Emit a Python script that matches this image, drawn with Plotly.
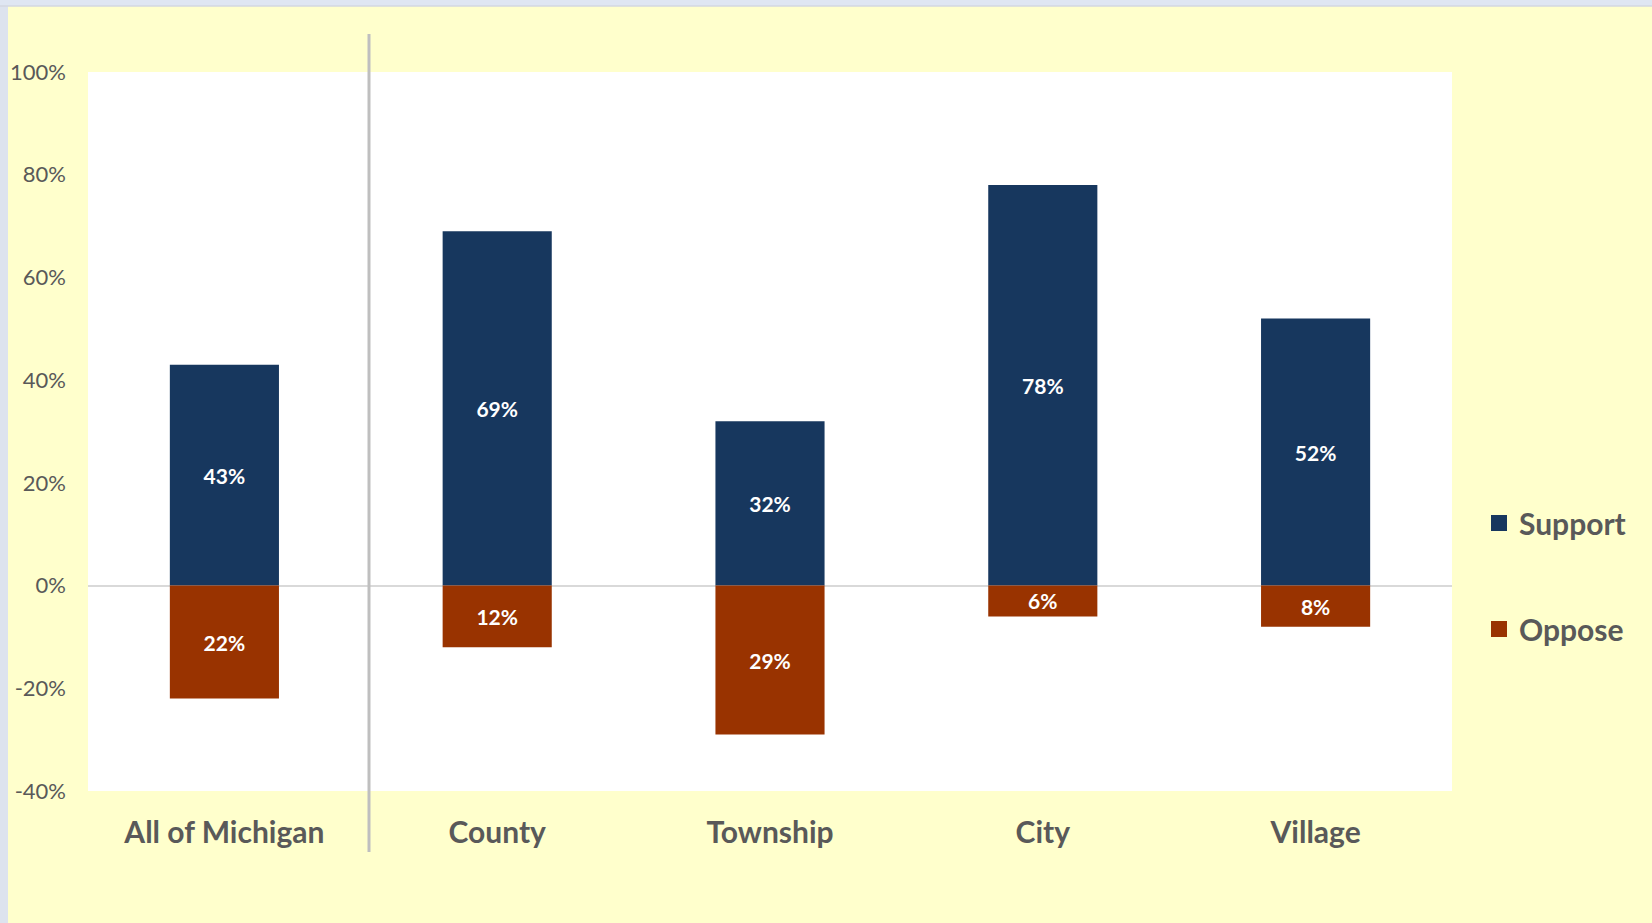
import plotly.graph_objects as go

categories = ["All of Michigan", "County", "Township", "City", "Village"]
support = [43, 69, 32, 78, 52]
oppose = [-22, -12, -29, -6, -8]
y_ticks = [-40, -20, 0, 20, 40, 60, 80, 100]
y_tick_labels = ["-40%", "-20%", "0%", "20%", "40%", "60%", "80%", "100%"]

NAVY = "#17375e"
RUST = "#993300"
GRAY = "#595959"
FONT = "Lato"

W, H = 1652, 923
L, R, T, B = 88, 200, 72, 132
pw, ph = W - L - R, H - T - B

def px_x(px):
    return (px - L) / pw

def px_y(py):
    return (H - B - py) / ph

fig = go.Figure()
fig.add_trace(go.Bar(
    x=categories, y=support, name="Support", marker=dict(color=NAVY, line=dict(width=0)),
    text=[f"{v}%" for v in support], textposition="inside", insidetextanchor="middle",
    textfont=dict(color="white", size=21, family=FONT, weight="bold"), showlegend=False,
))
fig.add_trace(go.Bar(
    x=categories, y=oppose, name="Oppose", marker=dict(color=RUST, line=dict(width=0)),
    text=[f"{abs(v)}%" for v in oppose], textposition="inside", insidetextanchor="middle",
    textfont=dict(color="white", size=21, family=FONT, weight="bold"), showlegend=False,
))
# legend entries
for nm, col in [("Support", NAVY), ("Oppose", RUST)]:
    fig.add_trace(go.Scatter(
        x=[None], y=[None], mode="markers", name=nm, legendgroup=nm,
        marker=dict(symbol="square", size=16, color=col), showlegend=True,
    ))

fig.update_layout(
    width=W, height=H, autosize=False,
    margin=dict(l=L, r=R, t=T, b=B, pad=0),
    paper_bgcolor="#ffffcc", plot_bgcolor="white",
    barmode="relative", bargap=0.6,
    uniformtext=dict(minsize=21, mode="show"),
    font=dict(family=FONT, color=GRAY),
    legend=dict(
        x=px_x(1479), y=px_y(576), xanchor="left", yanchor="middle",
        traceorder="grouped", tracegroupgap=64,
        font=dict(size=30, family=FONT, color=GRAY, weight="bold"),
        bgcolor="rgba(0,0,0,0)",
    ),
    xaxis=dict(
        showgrid=False, showline=False, zeroline=False, ticks="",
        tickfont=dict(size=30, family=FONT, color=GRAY, weight="bold"),
        ticklabelstandoff=21, fixedrange=True, automargin=False,
    ),
    yaxis=dict(
        range=[-40, 100], tickvals=y_ticks, ticktext=y_tick_labels,
        showgrid=False, showline=False,
        zeroline=True, zerolinecolor="#d9d9d9", zerolinewidth=2,
        tickfont=dict(size=22, family=FONT, color=GRAY),
        ticklabelstandoff=21, fixedrange=True, automargin=False,
    ),
    shapes=[
        dict(type="rect", xref="paper", yref="paper",
             x0=px_x(0), x1=px_x(8), y0=px_y(H), y1=px_y(0),
             fillcolor="#dde3ee", line=dict(width=0), layer="above"),
        dict(type="rect", xref="paper", yref="paper",
             x0=px_x(0), x1=px_x(W), y0=px_y(6), y1=px_y(0),
             fillcolor="#dfe6f2", line=dict(width=0), layer="above"),
        dict(type="line", xref="paper", yref="paper",
             x0=px_x(0), x1=px_x(W), y0=px_y(6), y1=px_y(6),
             line=dict(color="#d3d7e0", width=1.5), layer="above"),
        dict(type="line", xref="paper", yref="paper",
             x0=px_x(369), x1=px_x(369), y0=px_y(852), y1=px_y(34),
             line=dict(color="#bfbfbf", width=3), layer="above"),
    ],
)

fig.write_html("out.html", config={"displayModeBar": False},
               post_script="document.body.style.margin='0';document.body.style.overflow='hidden';")
